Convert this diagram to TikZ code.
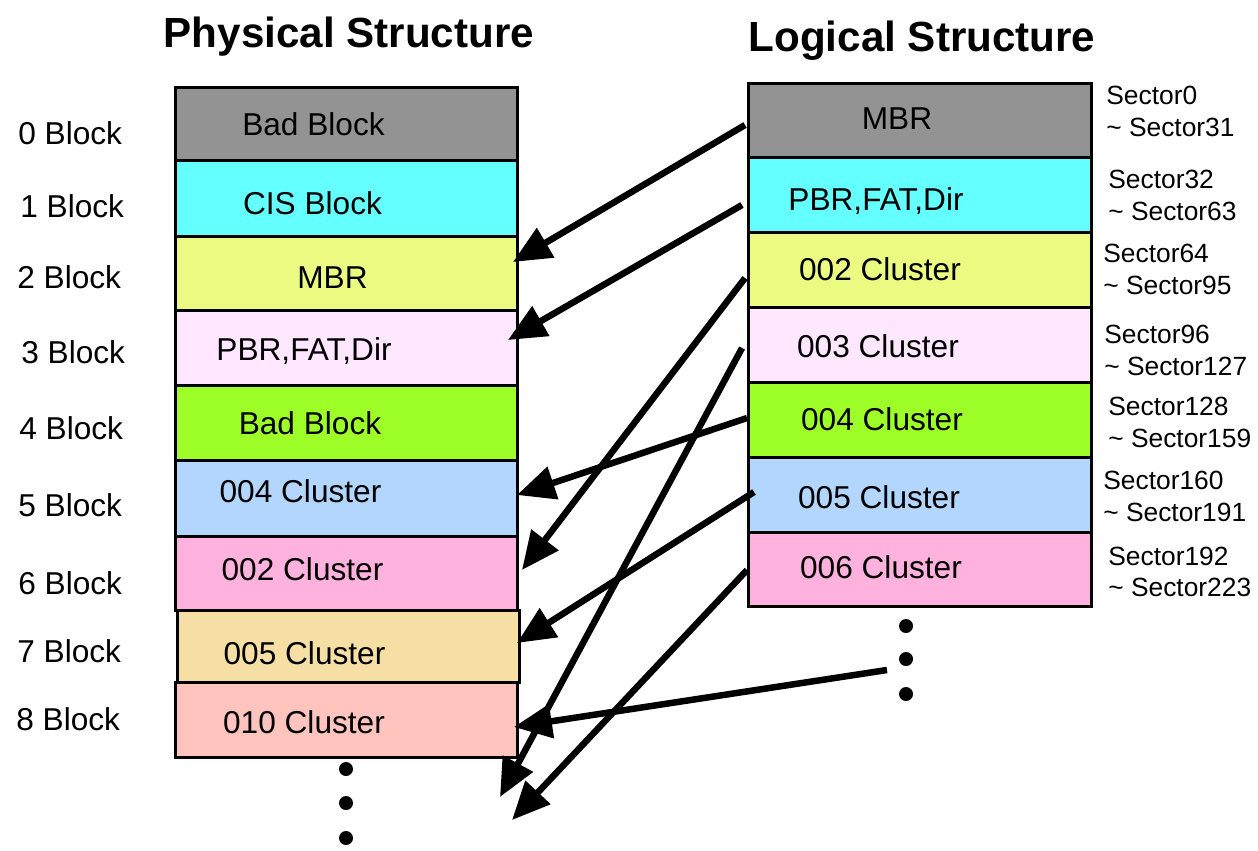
\documentclass[tikz,border=0pt]{standalone}
\usepackage{fontspec}
\setmainfont{Liberation Sans}
\usetikzlibrary{arrows.meta,calc}
\definecolor{cgray}{RGB}{147,147,147}
\definecolor{ccyan}{RGB}{100,255,255}
\definecolor{cyellow}{RGB}{236,250,130}
\definecolor{clpink}{RGB}{255,232,255}
\definecolor{cgreen}{RGB}{158,255,40}
\definecolor{cblue}{RGB}{179,214,255}
\definecolor{cpink}{RGB}{255,178,222}
\definecolor{ctan}{RGB}{245,223,165}
\definecolor{csalmon}{RGB}{255,196,190}
\begin{document}
\begin{tikzpicture}[x=0.02cm,y=-0.02cm,
  box/.style={draw=black, line width=0.06cm, minimum width=6.86cm, minimum height=1.5cm, inner sep=0pt, outer sep=0pt},
  rbox/.style={box, minimum width=6.88cm},
  txt/.style={font=\fontsize{18}{20}\selectfont, inner sep=0pt, anchor=base},
  lbl/.style={txt, anchor=base west},
  sec/.style={font=\fontsize{15}{17}\selectfont, inner sep=0pt, anchor=base west},
  ttl/.style={font=\fontsize{24}{28}\selectfont\bfseries, inner sep=0pt, anchor=base},
  arr/.style={line width=0.13cm, -{Triangle[length=0.76cm,width=0.66cm]}},
  dot/.style={fill=black}]
\useasboundingbox (0,0) rectangle (1258,850);

% titles
\node[ttl] (tphys) at (349,47) {Physical Structure};
\node[ttl] (tlog) at (922,51) {Logical Structure};

% physical boxes
\node[box, fill=cgray, minimum height=1.46cm] (L0) at (346.5,123.5) {};
\node[box, fill=ccyan, minimum height=1.52cm] (L1) at (346.5,198) {};
\node[box, fill=cyellow, minimum height=1.48cm] (L2) at (346.5,273) {};
\node[box, fill=clpink] (L3) at (346.5,347.5) {};
\node[box, fill=cgreen] (L4) at (346.5,422.5) {};
\node[box, fill=cblue, minimum height=1.52cm] (L5) at (346.5,498) {};
\node[box, fill=cpink, minimum height=1.48cm] (L6) at (346.5,573) {};
\node[box, fill=ctan, minimum height=1.44cm] (L7) at (348.5,646) {};
\node[box, fill=csalmon] (L8) at (346.5,719.5) {};

\node[txt] (l0t) at (313.5,135.5) {Bad Block};
\node[txt] (l1t) at (312.5,214.5) {CIS Block};
\node[txt] (l2t) at (332.5,288.5) {MBR};
\node[txt] (l3t) at (304,360.5) {PBR,FAT,Dir};
\node[txt] (l4t) at (310,434) {Bad Block};
\node[txt] (l5t) at (300.5,502.5) {004 Cluster};
\node[txt] (l6t) at (302.5,580.5) {002 Cluster};
\node[txt] (l7t) at (304.5,664.5) {005 Cluster};
\node[txt] (l8t) at (304,733.5) {010 Cluster};

% block labels
\node[lbl] (b0) at (18,144.5) {0 Block};
\node[lbl] (b1) at (20,217.5) {1 Block};
\node[lbl] (b2) at (17,288.5) {2 Block};
\node[lbl] (b3) at (21,363.5) {3 Block};
\node[lbl] (b4) at (19,439.5) {4 Block};
\node[lbl] (b5) at (18,516.5) {5 Block};
\node[lbl] (b6) at (18,594.5) {6 Block};
\node[lbl] (b7) at (17,662.5) {7 Block};
\node[lbl] (b8) at (16,730.5) {8 Block};

% logical boxes
\node[rbox, fill=cgray, minimum height=1.48cm] (R0) at (920,120) {};
\node[rbox, fill=ccyan] (R1) at (920,194.5) {};
\node[rbox, fill=cyellow] (R2) at (920,269.5) {};
\node[rbox, fill=clpink] (R3) at (920,344.5) {};
\node[rbox, fill=cgreen] (R4) at (920,419.5) {};
\node[rbox, fill=cblue] (R5) at (920,494.5) {};
\node[rbox, fill=cpink, minimum height=1.48cm] (R6) at (920,569) {};

\node[txt] (r0t) at (897,129.5) {MBR};
\node[txt] (r1t) at (876,210) {PBR,FAT,Dir};
\node[txt] (r2t) at (880,280) {002 Cluster};
\node[txt] (r3t) at (878,357) {003 Cluster};
\node[txt] (r4t) at (882,430) {004 Cluster};
\node[txt] (r5t) at (879,508) {005 Cluster};
\node[txt] (r6t) at (881,578) {006 Cluster};

% sector labels
\node[sec] (s0a) at (1106,104.5) {Sector0};
\node[sec] (s0b) at (1106,136.5) {\textasciitilde{} Sector31};
\node[sec] (s1a) at (1108,188) {Sector32};
\node[sec] (s1b) at (1108,220) {\textasciitilde{} Sector63};
\node[sec] (s2a) at (1103,262.5) {Sector64};
\node[sec] (s2b) at (1103,294) {\textasciitilde{} Sector95};
\node[sec] (s3a) at (1104,343) {Sector96};
\node[sec] (s3b) at (1104,375) {\textasciitilde{} Sector127};
\node[sec] (s4a) at (1108,415.5) {Sector128};
\node[sec] (s4b) at (1108,447.5) {\textasciitilde{} Sector159};
\node[sec] (s5a) at (1103,489.5) {Sector160};
\node[sec] (s5b) at (1103,521.5) {\textasciitilde{} Sector191};
\node[sec] (s6a) at (1108,565) {Sector192};
\node[sec] (s6b) at (1108,596.5) {\textasciitilde{} Sector223};

% dots
\fill[dot] (346,769) circle[radius=0.14cm];
\fill[dot] (346,803) circle[radius=0.14cm];
\fill[dot] (346,838) circle[radius=0.14cm];
\fill[dot] (906,626) circle[radius=0.14cm];
\fill[dot] (906,659) circle[radius=0.14cm];
\fill[dot] (906,694) circle[radius=0.14cm];

\coordinate (rdots) at (887,670);
\coordinate (e3) at (500,797);
\coordinate (e6) at (512,820);

% arrows
\draw[arr] ($(R0.west)+(-3,5)$) -- ($(L2.east)+(-5,-11)$);
\draw[arr] ($(R1.west)+(-6,10.5)$) -- ($(L3.east)+(-10,-7.5)$);
\draw[arr] ($(R4.west)+(-1,-1.5)$) -- ($(L5.east)+(-1,-3)$);
\draw[arr] ($(R2.west)+(-3,8.5)$) -- ($(L6.east)+(4,-3)$);
\draw[arr] ($(R5.west)+(6,-2.5)$) -- ($(L7.east)+(-3,-3)$);
\draw[arr] (rdots) -- ($(L8.east)+(-4,7.5)$);
\draw[arr] ($(R3.west)+(-6,3.5)$) -- (e3);
\draw[arr] ($(R6.west)+(-1,1)$) -- (e6);
\end{tikzpicture}
\end{document}
